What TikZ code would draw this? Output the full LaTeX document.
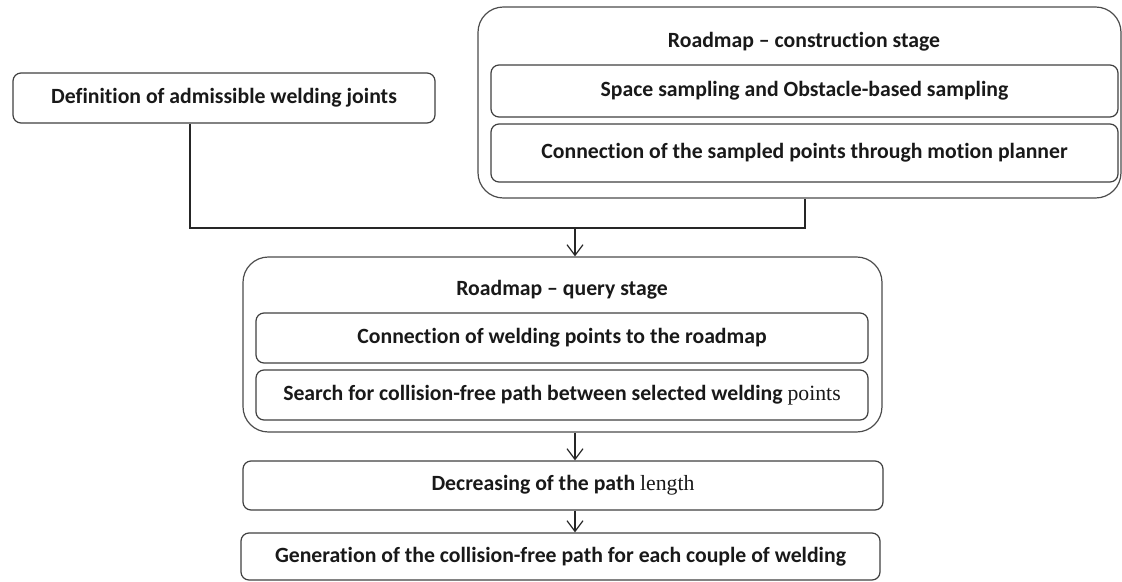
\documentclass[tikz,border=0pt]{standalone}
\usepackage{fontspec}
\setmainfont[Ligatures=NoCommon]{Carlito}
\newfontfamily\serifpart{Liberation Serif}
\usetikzlibrary{arrows.meta}
\begin{document}
\begin{tikzpicture}[x=0.75pt,y=-0.75pt,
  font=\bfseries\fontsize{16.3pt}{19pt}\selectfont,
  box/.style={draw=black!75, line width=0.9pt, fill=white, rounded corners=6pt, inner sep=0pt, text=black!90},
  bigbox/.style={draw=black!70, line width=0.9pt, rounded corners=19pt, inner sep=0pt},
  title/.style={inner sep=0pt, text=black!90},
  conn/.style={draw=black!85, line width=0.9pt},
  arr/.style={conn, -{Straight Barb[length=8pt,width=12pt,line width=0.9pt]}}
]
\useasboundingbox (0,0) rectangle (1122,582);
% Definition
\node[box, minimum width=422*0.75pt, minimum height=50*0.75pt] (def) at (224,98) {Definition of admissible welding joints};
% Construction stage
\node[bigbox, minimum width=643*0.75pt, minimum height=191*0.75pt] (cons) at (799.5,102.5) {};
\node[title] (constitle) at (804,42) {Roadmap -- construction stage};
\node[box, minimum width=627*0.75pt, minimum height=52*0.75pt] (space) at (804.5,91) {Space sampling and Obstacle-based sampling};
\node[box, minimum width=627*0.75pt, minimum height=58*0.75pt] (connp) at (804.5,153) {Connection of the sampled points through motion planner};
% Query stage
\node[bigbox, minimum width=639*0.75pt, minimum height=175*0.75pt] (query) at (562.5,344.5) {};
\node[title] (querytitle) at (562,290) {Roadmap -- query stage};
\node[box, minimum width=612*0.75pt, minimum height=50*0.75pt] (qone) at (562,338) {Connection of welding points to the roadmap};
\node[box, minimum width=612*0.75pt, minimum height=50*0.75pt] (qtwo) at (562,395) {Search for collision-free path between selected welding {\serifpart\mdseries points}};
% Decreasing
\node[box, minimum width=640*0.75pt, minimum height=49*0.75pt] (dec) at (563,485.5) {Decreasing of the path {\serifpart\mdseries length}};
% Generation
\node[box, minimum width=639*0.75pt, minimum height=47*0.75pt] (gen) at (560.5,556.5) {Generation of the collision-free path for each couple of welding};
% connectors
\coordinate (join) at (575,228);
\draw[conn] (def.south -| 190,0) |- (join) -| (cons.south -| 805,0);
\draw[arr] (join) -- (join |- query.north);
\draw[arr] (query.south -| join) -- (join |- dec.north);
\draw[arr] (dec.south -| join) -- (join |- gen.north);
\end{tikzpicture}
\end{document}
